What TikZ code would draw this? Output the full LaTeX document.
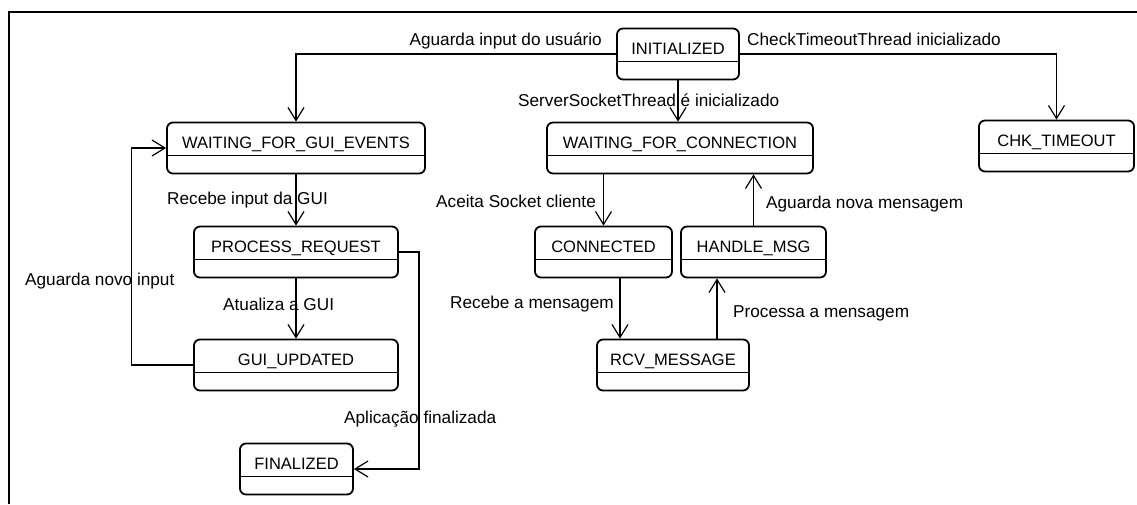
\documentclass[tikz,border=0pt]{standalone}
\usepackage{fontspec}
\usetikzlibrary{arrows.meta}
\newfontfamily\diagfont{Liberation Sans}
\begin{document}
\begin{tikzpicture}[x=1pt,y=-1pt,
  state/.style={draw, line width=1.8pt, rounded corners=6pt, minimum height=51pt,
    inner sep=0pt, text height=12pt, text depth=12pt,
    font=\diagfont\fontsize{16.5}{18}\selectfont,
    path picture={\draw[line width=1.2pt]
      ([yshift=-33pt]path picture bounding box.north west) --
      ([yshift=-33pt]path picture bounding box.north east);}},
  lbl/.style={anchor=base west, inner sep=0pt, font=\diagfont\fontsize{17.2}{19}\selectfont},
  lblr/.style={lbl, anchor=base east},
  arr/.style={line width=1.2pt, -{Straight Barb[length=13pt,width=16pt,line width=1.2pt]}}
]
\useasboundingbox (0,0) rectangle (1137,504);
% outer frame
\draw[line width=2.2pt] (9,504) -- (9,12) -- (1137,12);

% states
\node[state, minimum width=122pt] (init) at (678,54)    {INITIALIZED};
\node[state, minimum width=258pt] (wge)  at (296,148)   {WAITING\_FOR\_GUI\_EVENTS};
\node[state, minimum width=266pt] (wfc)  at (680,148)   {WAITING\_FOR\_CONNECTION};
\node[state, minimum width=155pt] (chk)  at (1056.5,146) {CHK\_TIMEOUT};
\node[state, minimum width=204pt] (pr)   at (296,252)   {PROCESS\_REQUEST};
\node[state, minimum width=204pt] (gu)   at (296,365)   {GUI\_UPDATED};
\node[state, minimum width=113pt] (fin)  at (296.5,469) {FINALIZED};
\node[state, minimum width=137pt] (con)  at (603.5,252) {CONNECTED};
\node[state, minimum width=145pt] (hm)   at (753.5,252) {HANDLE\_MSG};
\node[state, minimum width=152pt] (rcv)  at (673,365)   {RCV\_MESSAGE};

% transitions
\draw[arr] (init.west) -| (wge.north);
\draw[arr] (init.south) -- (init.south |- wfc.north);
\draw[arr] (init.east) -| (chk.north);
\draw[arr] (wge.south) -- (pr.north);
\draw[arr] (pr.south) -- (gu.north);
\draw[arr] (gu.west) -- ++(-62,0) |- (wge.west);
\draw[arr] (pr.east) -- ++(20,0) |- (fin.east);
\draw[arr] (con.north |- wfc.south) -- (con.north);
\draw[arr] (hm.north) -- (hm.north |- wfc.south);
\draw[arr] ([xshift=16.5pt]con.south) -- ([xshift=16.5pt]con.south |- rcv.north);
\draw[arr] ([xshift=44pt]rcv.north) -- ([xshift=44pt]rcv.north |- hm.south);

% transition labels
\node[lblr] (l1)  at (602,45)  {Aguarda input do usuário};
\node[lbl]  (l2)  at (518,106) {ServerSocketThread é inicializado};
\node[lbl]  (l3)  at (747,45)  {CheckTimeoutThread inicializado};
\node[lbl]  (l4)  at (167,204) {Recebe input da GUI};
\node[lbl]  (l5)  at (223,310) {Atualiza a GUI};
\node[lbl]  (l6)  at (25,285)  {Aguarda novo input};
\node[lbl]  (l7)  at (344,423) {Aplicação finalizada};
\node[lbl]  (l8)  at (436,207) {Aceita Socket cliente};
\node[lbl]  (l9)  at (766,208) {Aguarda nova mensagem};
\node[lbl]  (l10) at (450,308) {Recebe a mensagem};
\node[lbl]  (l11) at (733,317) {Processa a mensagem};
\end{tikzpicture}
\end{document}
